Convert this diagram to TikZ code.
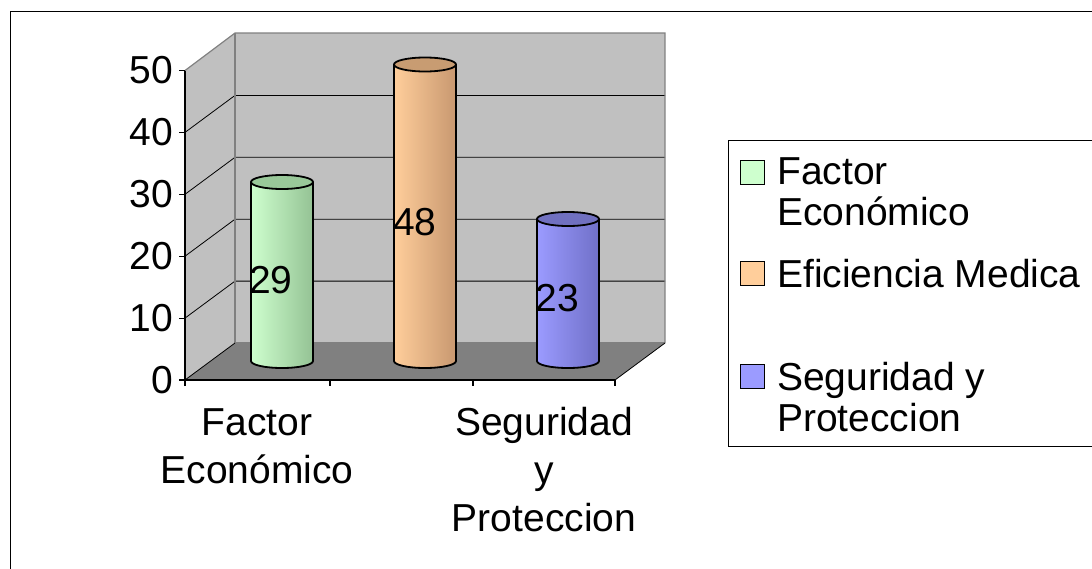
\documentclass[tikz,border=0pt]{standalone}
\usepackage{fontspec}
\setmainfont{Liberation Sans}
\usepackage{tikz}
\usetikzlibrary{positioning}
\definecolor{wallgray}{RGB}{192,192,192}
\definecolor{floorgray}{RGB}{128,128,128}
\definecolor{edgegray}{RGB}{128,128,128}
\definecolor{greenL}{RGB}{206,255,206}
\definecolor{greenR}{RGB}{148,194,148}
\definecolor{greenT}{RGB}{153,200,153}
\definecolor{orangeL}{RGB}{255,206,155}
\definecolor{orangeR}{RGB}{200,152,112}
\definecolor{orangeT}{RGB}{200,156,114}
\definecolor{blueL}{RGB}{155,155,255}
\definecolor{blueR}{RGB}{112,112,200}
\definecolor{blueT}{RGB}{112,112,192}
% cylinder: center x, top y, left colour, right colour, top colour
\newcommand{\cylbar}[5]{%
  \shade[left color=#3,right color=#4] (#1-31,#2) -- (#1-31,361) arc (180:0:31 and 7) -- (#1+31,#2) -- cycle;
  \draw[cyl] (#1-31,#2) -- (#1-31,361) arc (180:0:31 and 7) -- (#1+31,#2);
  \filldraw[cyl,fill=#5] (#1,#2) ellipse (31 and 7);}

\begin{document}
\begin{tikzpicture}[x=1pt,y=-1pt,
  lbl/.style={font=\fontsize{39}{48}\selectfont,inner sep=0pt},
  keytext/.style={font=\fontsize{39}{41}\selectfont,inner sep=0pt,anchor=base west,align=left},
  grid line/.style={black,line width=0.8pt},
  wall edge/.style={edgegray,line width=1.2pt},
  cyl/.style={black,line width=1.8pt},
  axis/.style={black,line width=1.2pt},
  key/.style={draw=black,line width=1pt,minimum size=24pt,inner sep=0pt}]
\useasboundingbox (0,0) rectangle (1092,568);
% outer frame
\draw[line width=1pt] (10,11) rectangle (1110,590);

% walls and floor
\fill[wallgray] (185,380) -- (185,70.5) -- (235,33) -- (235,343) -- cycle;
\fill[wallgray] (235,33) rectangle (665,343);
\fill[floorgray] (185,380) -- (235,343) -- (665,343) -- (615,380) -- cycle;

% grid lines
\foreach \k in {1,...,4}
  \draw[grid line] (185,380-61.9*\k) -- (235,343-61.9*\k) -- (665,343-61.9*\k);
\draw[wall edge] (185,70.5) -- (235,33) -- (665,33) -- (665,343);
\draw[wall edge] (235,33) -- (235,343) -- (665,343);
\draw[grid line] (185,380) -- (235,343);
\draw[grid line] (615,380) -- (665,343);

% bars
\cylbar{282}{182}{greenL}{greenR}{greenT}
\cylbar{425}{64.5}{orangeL}{orangeR}{orangeT}
\cylbar{568}{219}{blueL}{blueR}{blueT}

\node[lbl] (v29) at (271,280) {29};
\node[lbl] (v48) at (415,222) {48};
\node[lbl] (v23) at (557,298) {23};

% axes
\draw[axis] (185,380) -- (185,70.5);
\draw[axis] (185,386) -- (185,380) -- (615,380);
\foreach \x in {330,473,615}
  \draw[axis] (\x,380) -- (\x,386);
\foreach \v in {0,10,...,50} {
  \draw[axis] (179,380-6.19*\v) -- (185,380-6.19*\v);
  \node[lbl,anchor=east] (y\v) at (173,380-6.19*\v) {\v};
}

% category labels (base = last line)
\node[lbl,anchor=base,align=center] (catA) at (257,483) {Factor\\Económico};
\node[lbl,anchor=base,align=center] (catC) at (544,531) {Seguridad\\y\\Proteccion};

% legend
\draw[line width=1pt] (728,140) rectangle (1110,446);
\node[key,fill=greenL] (kA) at (752.5,172) {};
\node[key,fill=orangeL] (kB) at (752.5,273.5) {};
\node[key,fill=blueL] (kC) at (752.5,376.5) {};
\node[keytext] (tA) at (777,225) {Factor\\Económico};
\node[keytext] (tB) at (777,287) {Eficiencia Medica};
\node[keytext] (tC) at (777,431) {Seguridad y\\Proteccion};

\end{tikzpicture}
\end{document}
